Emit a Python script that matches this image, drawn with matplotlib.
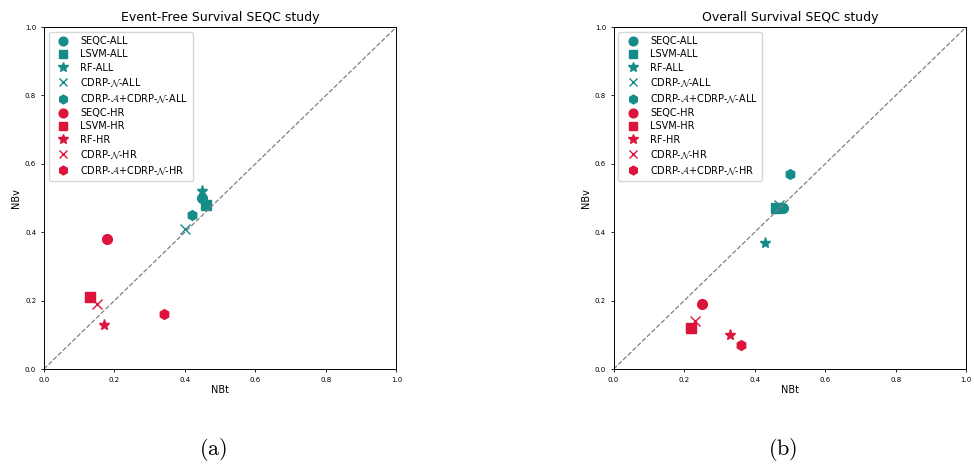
import matplotlib
matplotlib.use("Agg")
import matplotlib.pyplot as plt

plt.rcParams['mathtext.fontset'] = 'cm'

labels = ["SEQC-ALL", "LSVM-ALL", "RF-ALL", r"CDRP-$\mathcal{N}$-ALL",
          r"CDRP-$\mathcal{A}$+CDRP-$\mathcal{N}$-ALL",
          "SEQC-HR", "LSVM-HR", "RF-HR", r"CDRP-$\mathcal{N}$-HR",
          r"CDRP-$\mathcal{A}$+CDRP-$\mathcal{N}$-HR"]
markers = ["o", "s", "*", "x", "h", "o", "s", "*", "x", "h"]
teal = "#168c89"
red = "#dc143c"
colors = [teal] * 5 + [red] * 5

efs_nbt = [0.45, 0.46, 0.45, 0.40, 0.42, 0.18, 0.13, 0.17, 0.15, 0.34]
efs_nbv = [0.50, 0.48, 0.52, 0.41, 0.45, 0.38, 0.21, 0.13, 0.19, 0.16]

os_nbt = [0.48, 0.46, 0.43, 0.47, 0.50, 0.25, 0.22, 0.33, 0.23, 0.36]
os_nbv = [0.47, 0.47, 0.37, 0.48, 0.57, 0.19, 0.12, 0.10, 0.14, 0.07]

titles = ["Event-Free Survival SEQC study", "Overall Survival SEQC study"]
captions = ["(a)", "(b)"]

fig = plt.figure(figsize=(9.74, 4.66), dpi=100)
axes = [fig.add_axes([0.045, 0.208, 0.362, 0.734]),
        fig.add_axes([0.630, 0.208, 0.362, 0.734])]

for ax, xs, ys, title, cap in zip(axes, [efs_nbt, os_nbt], [efs_nbv, os_nbv], titles, captions):
    for x, y, lab, m, c in zip(xs, ys, labels, markers, colors):
        ms = 7 if m != "*" else 8
        ax.plot([x], [y], linestyle="none", marker=m, color=c, markersize=ms,
                label=lab, markeredgewidth=1.0)
    ax.plot([0, 1], [0, 1], linestyle="--", color="gray", linewidth=0.9)
    ax.set_xlim(0, 1)
    ax.set_ylim(0, 1)
    ax.set_xticks([0, 0.2, 0.4, 0.6, 0.8, 1.0])
    ax.set_yticks([0, 0.2, 0.4, 0.6, 0.8, 1.0])
    ax.tick_params(labelsize=5, length=2, width=0.6)
    ax.set_xlabel("NBt", fontsize=7, labelpad=2)
    ax.set_ylabel("NBv", fontsize=7, labelpad=3)
    ax.set_title(title, fontsize=9, pad=4)
    for s in ax.spines.values():
        s.set_linewidth(0.7)
    ax.legend(loc="upper left", fontsize=7, handletextpad=0.8, labelspacing=0.33,
              borderpad=0.45, markerscale=0.9)

fig.text(0.219, 0.035, "$\\mathrm{(a)}$", ha="center", va="center", fontsize=16)
fig.text(0.804, 0.035, "$\\mathrm{(b)}$", ha="center", va="center", fontsize=16)

fig.savefig("out.png", dpi=100)
